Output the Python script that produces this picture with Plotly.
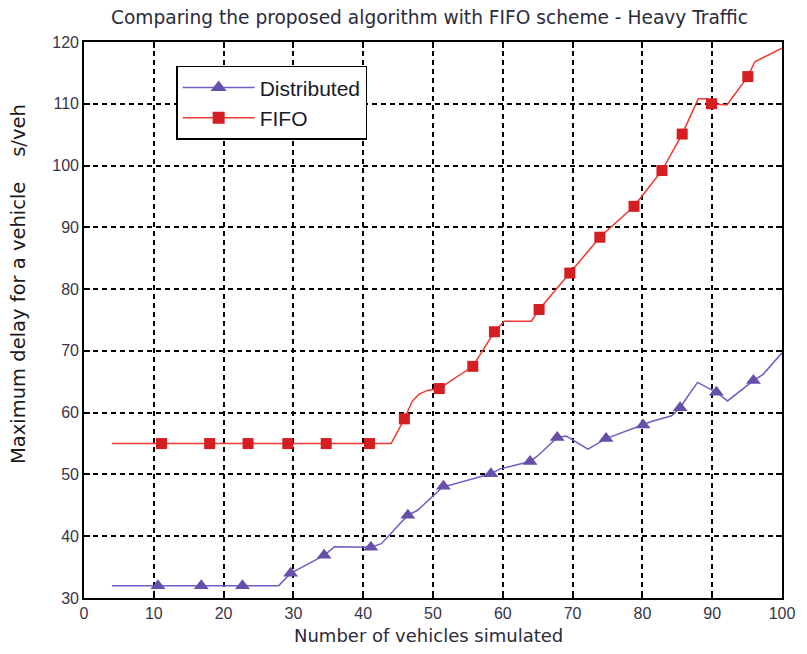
import plotly.graph_objects as go

# ---- data ----
fifo_line_x = [4, 44, 45.9, 47, 48, 49.2, 50.9, 55.7, 58.8, 60.2, 64.1, 65.2, 69.6, 73.9,
               78.8, 82.8, 85.7, 88.0, 89.2, 89.9, 92.1, 95.1, 96.1, 100]
fifo_line_y = [55, 55, 59, 61.8, 63.0, 63.6, 63.9, 67.5, 73.1, 74.8, 74.8, 76.7, 82.6, 88.4,
               93.4, 99.2, 105.1, 110.8, 110.8, 110.0, 109.8, 114.4, 116.8, 119.0]
fifo_mark_x = [11.1, 18.0, 23.5, 29.2, 34.7, 40.9, 45.9, 50.9, 55.7, 58.8, 65.2, 69.6,
               73.9, 78.8, 82.8, 85.7, 89.9, 95.1]
fifo_mark_y = [55, 55, 55, 55, 55, 55, 59.0, 63.9, 67.5, 73.1, 76.7, 82.6,
               88.4, 93.4, 99.2, 105.1, 110.0, 114.4]

dist_line_x = [4, 27.9, 29.6, 34.4, 35.9, 41.1, 42.6, 46.4, 47.8, 51.5, 52.5, 58.3, 59.6,
               63.9, 65.1, 67.8, 69.1, 72.2, 74.8, 80.1, 81.4, 84.2, 85.4, 86.4, 87.9,
               90.6, 92.2, 95.9, 97.3, 100]
dist_line_y = [32, 32, 34.0, 36.9, 38.3, 38.2, 38.8, 43.4, 44.2, 48.1, 48.3, 50.1, 50.9,
               52.1, 53.1, 56.0, 56.2, 54.1, 55.8, 58.0, 58.6, 59.5, 60.8, 62.5, 64.9,
               63.3, 61.9, 65.2, 66.2, 69.7]
dist_mark_x = [10.6, 16.8, 22.7, 29.6, 34.4, 41.1, 46.4, 51.5, 58.3, 63.9, 67.8, 74.8,
               80.1, 85.4, 90.6, 95.9]
dist_mark_y = [32, 32, 32, 34.0, 36.9, 38.2, 43.4, 48.1, 50.1, 52.1, 56.0, 55.8,
               58.0, 60.8, 63.3, 65.2]

x_ticks = list(range(0, 101, 10))
y_ticks = list(range(30, 121, 10))

title_text = "Comparing the proposed algorithm with FIFO scheme - Heavy Traffic"
x_title = "Number of vehicles simulated"
y_title = "Maximum delay for a vehicle" + "\u00a0" * 4 + "s/veh"

# ---- styles ----
purple_line = "#6f5fc4"
purple_mark = "#6650aa"
red_line = "#f03a30"
red_mark = "#d41e22"
font_fam = "Liberation Sans, Arial, sans-serif"
title_fam = "DejaVu Sans, sans-serif"

fig = go.Figure()

fig.add_trace(go.Scatter(x=dist_line_x, y=dist_line_y, mode="lines",
                         line=dict(color=purple_line, width=1.5), showlegend=False))
fig.add_trace(go.Scatter(x=dist_mark_x, y=dist_mark_y, mode="markers",
                         marker=dict(symbol="triangle-up", size=13, color=purple_mark,
                                     line=dict(width=0)), showlegend=False))
fig.add_trace(go.Scatter(x=fifo_line_x, y=fifo_line_y, mode="lines",
                         line=dict(color=red_line, width=1.5), showlegend=False))
fig.add_trace(go.Scatter(x=fifo_mark_x, y=fifo_mark_y, mode="markers",
                         marker=dict(symbol="square", size=11, color=red_mark,
                                     line=dict(width=0)), showlegend=False))

# legend entries
fig.add_trace(go.Scatter(x=[None], y=[None], mode="lines+markers", name="Distributed",
                         line=dict(color=purple_line, width=1.5),
                         marker=dict(symbol="triangle-up", size=14, color=purple_mark)))
fig.add_trace(go.Scatter(x=[None], y=[None], mode="lines+markers", name="FIFO",
                         line=dict(color=red_line, width=1.5),
                         marker=dict(symbol="square", size=12, color=red_mark)))

axis_common = dict(
    showline=True, linecolor="black", linewidth=1.6, mirror="allticks",
    ticks="inside", ticklen=6, tickcolor="black", tickwidth=1.5,
    showgrid=True, gridcolor="black", gridwidth=1.6, griddash="5px,4px",
    zeroline=False,
    tickfont=dict(family=font_fam, size=16, color="#3a3448"),
)

fig.update_layout(
    width=807, height=654,
    margin=dict(l=84, r=18, t=42, b=56),
    paper_bgcolor="white", plot_bgcolor="white",
    xaxis=dict(range=[0, 100], tickvals=x_ticks, **axis_common),
    yaxis=dict(range=[30, 120], tickvals=y_ticks, **axis_common),
    legend=dict(x=0.132, y=0.957, xanchor="left", yanchor="top",
                bgcolor="white", bordercolor="black", borderwidth=1.5,
                font=dict(family=font_fam, size=21, color="#1a1a2a"),
                itemwidth=72, tracegroupgap=2),
    showlegend=True,
    annotations=[
        dict(text=title_text, xref="paper", yref="paper", x=(433 - 84) / 705,
             y=1, yshift=25, xanchor="center", yanchor="middle", showarrow=False,
             font=dict(family=title_fam, size=18.6, color="#2b2b3a")),
        dict(text=x_title, xref="paper", yref="paper", x=(432 - 84) / 705, y=0,
             yshift=-37, xanchor="center", yanchor="middle", showarrow=False,
             font=dict(family=title_fam, size=18, color="#2b2b3a")),
        dict(text=y_title, xref="paper", yref="paper", x=0, xshift=-66,
             y=(598 - 284) / 556, xanchor="center", yanchor="middle", textangle=-90,
             showarrow=False, font=dict(family=title_fam, size=19.5, color="#1a1a1a")),
    ],
)

fig.write_html("out.html")
